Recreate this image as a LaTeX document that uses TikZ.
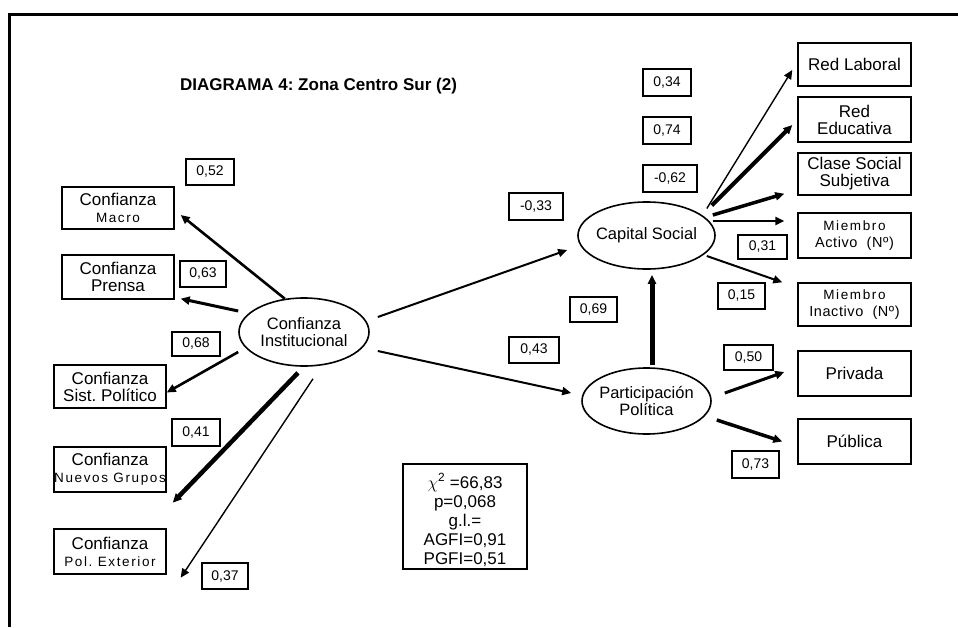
\documentclass[tikz,border=0pt]{standalone}
\usepackage{fontspec}
\setmainfont{Liberation Sans}
\newfontfamily\trackfont{Liberation Sans}[LetterSpace=12]
\newfontfamily\lighttrack{Liberation Sans}[LetterSpace=4]
\usetikzlibrary{arrows.meta,shapes.geometric}
\frenchspacing

% letter-spaced small lines inside the indicator boxes
\newcommand\trk[1]{{\trackfont\fontsize{13.5}{17}\selectfont #1}}
\newcommand\ltrk[1]{{\lighttrack\fontsize{14.5}{17}\selectfont #1}}

\begin{document}
\begin{tikzpicture}[x=1pt,y=-1pt,
  every node/.style={inner sep=0pt, font=\fontsize{17}{17}\selectfont},
  obs/.style={draw, line width=1.4pt, minimum width=112pt, align=center},
  coef/.style={draw, line width=1.2pt, font=\fontsize{14}{14}\selectfont},
  latent/.style={draw, ellipse, line width=1.6pt, align=center, inner xsep=-2pt,
                 font=\fontsize{16.5}{17}\selectfont},
  link/.style={-{Triangle[length=9pt,width=8pt]}, line width=#1},
]
\fill[white] (0,0) rectangle (958,627);
\useasboundingbox (0,0) rectangle (958,627);

% frame
\draw[line width=3pt, line join=miter] (9.5,627) -- (9.5,14) -- (958,14);

% title
\node[font=\bfseries\fontsize{17}{17}\selectfont, anchor=base west] (title) at (180,90)
  {DIAGRAMA 4: Zona Centro Sur (2)};

% latent variables
\node[latent, minimum width=130pt, minimum height=68pt] (ci) at (304,332) {Confianza\\Institucional};
\node[latent, minimum width=129pt, minimum height=67pt] (cs) at (646.5,235.5) {Capital Social};
\node[latent, minimum width=129pt, minimum height=66pt] (pp) at (646.5,401) {Participación\\Política};

% indicators, left
\node[obs, minimum height=42pt] (macro)  at (118,208)   {Confianza\\\trk{Macro}};
\node[obs, minimum height=44pt] (prensa) at (118,277)   {Confianza\\Prensa};
\node[obs, minimum height=43pt] (sist)   at (110,386.5) {Confianza\\Sist. Político};
\node[obs, minimum height=45pt] (nuevos) at (110,469.5) {Confianza\\\trk{Nuevos Grupos}};
\node[obs, minimum height=45pt] (polext) at (110,551.5) {Confianza\\\trk{Pol. Exterior}};

% indicators, right
\node[obs, minimum width=113pt, minimum height=43pt] (redlab)   at (854.5,64.5)  {Red Laboral};
\node[obs, minimum width=113pt, minimum height=45pt] (rededu)   at (854.5,119.5) {Red\\Educativa};
\node[obs, minimum width=113pt, minimum height=42pt] (clase)    at (854.5,174)   {Clase Social\\Subjetiva};
\node[obs, minimum width=113pt, minimum height=45pt] (activo)   at (854.5,235.5) {\trk{Miembro}\\\ltrk{Activo\ \ (Nº)}};
\node[obs, minimum width=113pt, minimum height=43pt] (inactivo) at (854.5,304.5) {\trk{Miembro}\\\ltrk{Inactivo\ \ (Nº)}};
\node[obs, minimum width=113pt, minimum height=45pt] (privada)  at (854.5,373.5) {Privada};
\node[obs, minimum width=113pt, minimum height=45pt] (publica)  at (854.5,441.5) {Pública};

% coefficients
\node[coef, minimum width=48pt, minimum height=26pt] (c052) at (210,172)   {0,52};
\node[coef, minimum width=46pt, minimum height=26pt] (c063) at (203,274)   {0,63};
\node[coef, minimum width=48pt, minimum height=24pt] (c068) at (196,344)   {0,68};
\node[coef, minimum width=48pt, minimum height=27pt] (c041) at (196,432.5) {0,41};
\node[coef, minimum width=46pt, minimum height=26pt] (c037) at (225,576)   {0,37};
\node[coef, minimum width=48pt, minimum height=27pt] (c034) at (667,82.5)  {0,34};
\node[coef, minimum width=48pt, minimum height=27pt] (c074) at (667,130.5) {0,74};
\node[coef, minimum width=54pt, minimum height=27pt] (c062) at (670,178.5) {-0,62};
\node[coef, minimum width=54pt, minimum height=27pt] (c033) at (536,206.5) {-0,33};
\node[coef, minimum width=49pt, minimum height=24pt] (c031) at (762.5,247) {0,31};
\node[coef, minimum width=47pt, minimum height=26pt] (c015) at (741.5,296) {0,15};
\node[coef, minimum width=47pt, minimum height=25pt] (c069) at (593.5,309.5) {0,69};
\node[coef, minimum width=50pt, minimum height=26pt] (c043) at (534,350)   {0,43};
\node[coef, minimum width=49pt, minimum height=25pt] (c050) at (748.5,357.5) {0,50};
\node[coef, minimum width=47pt, minimum height=27pt] (c073) at (755.5,464.5) {0,73};

% fit statistics: frame and text
\node[draw, line width=1.4pt, minimum width=124pt, minimum height=105pt] (fitbox) at (465,516.5) {};
\node[align=center, font=\fontsize{17}{19}\selectfont] (fit) at (465,520)
  {$\chi$\textsuperscript{2} =66,83\\p=0,068\\g.l.=\\AGFI=0,91\\PGFI=0,51};

% loadings of Confianza Institucional
\draw[link=2.6pt] (ci.120) -- ([shift={(6pt,-7pt)}]macro.east);
\draw[link=3pt] ([yshift=21pt]ci.west) -- ([shift={(6pt,1pt)}]prensa.south east);
\draw[link=2.6pt] ([yshift=-20pt]ci.west) -- ([yshift=-6pt]sist.east);
\draw[link=4.5pt] ([shift={(-6pt,-6pt)}]ci.south) -- ([shift={(6pt,-10pt)}]nuevos.south east);
\draw[link=1.4pt] ([shift={(9pt,-12pt)}]ci.south) -- ([shift={(14pt,-3pt)}]polext.south east);

% structural paths
\draw[link=2pt] ([shift={(8pt,15pt)}]ci.east) -- ([shift={(-10pt,-14.5pt)}]cs.west);
\draw[link=2pt] ([shift={(8pt,-19pt)}]ci.east) -- ([shift={(-10pt,8pt)}]pp.west);
\draw[link=5pt] ([shift={(5.5pt,2pt)}]pp.north) -- ([shift={(5.5pt,-5pt)}]cs.south);

% loadings of Capital Social
\draw[link=1.4pt] ([shift={(-9pt,27pt)}]cs.east) -- ([shift={(-5pt,-5.5pt)}]redlab.west);
\draw[link=4pt] ([shift={(-4pt,30pt)}]cs.east) -- ([shift={(-5pt,-5.5pt)}]rededu.west);
\draw[link=3.5pt] ([shift={(-3pt,20.5pt)}]cs.east) -- ([shift={(-13pt,2pt)}]clase.south west);
\draw[link=2.6pt] ([shift={(-3pt,14.5pt)}]cs.east) -- ([shift={(-13pt,14.5pt)}]activo.west);
\draw[link=2pt] ([shift={(-9pt,-20.5pt)}]cs.east) -- ([shift={(-15pt,0pt)}]inactivo.north west);

% loadings of Participación Política
\draw[link=3pt] ([shift={(13pt,8pt)}]pp.east) -- ([shift={(-13pt,1.5pt)}]privada.west);
\draw[link=3.5pt] ([shift={(5pt,-19pt)}]pp.east) -- ([shift={(-15pt,0pt)}]publica.west);
\end{tikzpicture}
\end{document}
